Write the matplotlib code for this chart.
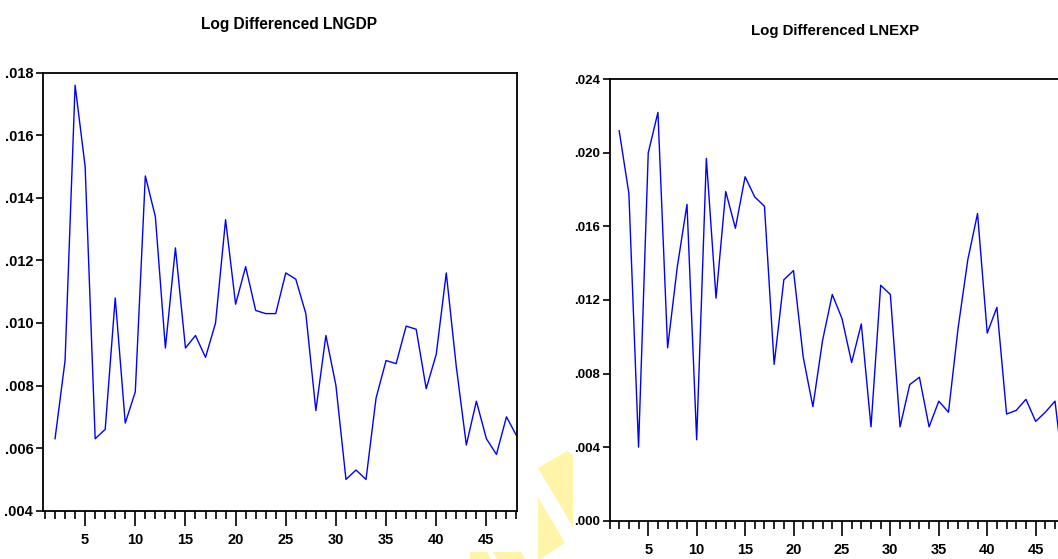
import numpy as np
import matplotlib
matplotlib.use('Agg')
import matplotlib.pyplot as plt
from matplotlib.patches import Polygon
from matplotlib.ticker import MultipleLocator, FuncFormatter

plt.rcParams['font.family'] = ['Liberation Sans', 'DejaVu Sans']
plt.rcParams['font.weight'] = 'bold'

# observations 2..48 (first difference drops obs 1)
obs = np.arange(2, 49)

lngdp = [0.0063, 0.0088, 0.0176, 0.0150, 0.0063, 0.0066, 0.0108, 0.0068, 0.0078,
         0.0147, 0.0134, 0.0092, 0.0124, 0.0092, 0.0096, 0.0089, 0.0100, 0.0133,
         0.0106, 0.0118, 0.0104, 0.0103, 0.0103, 0.0116, 0.0114, 0.0103, 0.0072,
         0.0096, 0.0080, 0.0050, 0.0053, 0.0050, 0.0076, 0.0088, 0.0087, 0.0099,
         0.0098, 0.0079, 0.0090, 0.0116, 0.0086, 0.0061, 0.0075, 0.0063, 0.0058,
         0.0070, 0.0064]

lnexp = [0.0212, 0.0178, 0.0040, 0.0200, 0.0222, 0.0094, 0.0138, 0.0172, 0.0044,
         0.0197, 0.0121, 0.0179, 0.0159, 0.0187, 0.0176, 0.0171, 0.0085, 0.0131,
         0.0136, 0.0089, 0.0062, 0.0098, 0.0123, 0.0110, 0.0086, 0.0107, 0.0051,
         0.0128, 0.0123, 0.0051, 0.0074, 0.0078, 0.0051, 0.0065, 0.0059, 0.0105,
         0.0142, 0.0167, 0.0102, 0.0116, 0.0058, 0.0060, 0.0066, 0.0054, 0.0059,
         0.0065, 0.0020]

titles = ['Log Differenced LNGDP', 'Log Differenced LNEXP']

W, H = 1058, 559
fig = plt.figure(figsize=(W / 100, H / 100), dpi=100)


def px_axes(left, top, right, bottom):
    # pixel box -> figure fraction
    return [left / W, 1 - bottom / H, (right - left) / W, (bottom - top) / H]


def dot_fmt(v, pos):
    return ('%.3f' % v).lstrip('0')


def style(ax, ylim, ystep, xlim, ylab):
    ax.set_xlim(*xlim)
    ax.set_ylim(*ylim)
    ax.xaxis.set_major_locator(MultipleLocator(5))
    ax.xaxis.set_minor_locator(MultipleLocator(1))
    ax.yaxis.set_major_locator(MultipleLocator(ystep))
    ax.yaxis.set_major_formatter(FuncFormatter(dot_fmt))
    ax.tick_params(axis='x', which='major', length=11, width=1.2, labelsize=10.5, pad=5)
    ax.tick_params(axis='x', which='minor', length=6, width=1.2)
    ax.tick_params(axis='y', length=5, width=1.2, labelsize=ylab, pad=2)
    for s in ax.spines.values():
        s.set_linewidth(1.3)


ax1 = fig.add_axes(px_axes(43, 72.7, 517, 510.7))
ax1.plot(obs, lngdp, color='#0000FF', lw=1.0)
style(ax1, (0.004, 0.018), 0.002, (0.8, 48.05), 10.5)
fig.text(289 / W, 1 - 24 / H, titles[0], ha='center', va='center', fontsize=11.2, weight='bold')

ax2 = fig.add_axes(px_axes(609.5, 79.3, 1064.7, 520.7))
ax2.plot(obs, lnexp, color='#0000FF', lw=1.0)
style(ax2, (0.0, 0.024), 0.004, (1, 48), 9.5)
fig.text(835 / W, 1 - 31 / H, titles[1], ha='center', va='center', fontsize=10.8, weight='bold')

# faint yellow watermark pieces at the bottom
wm = [[(538, 468), (567, 451), (573, 455), (573, 527)],
      [(538, 497), (565, 543), (540, 559), (538, 559)],
      [(470, 552), (487, 552), (491, 559), (470, 559)],
      [(493, 552), (521, 552), (525, 559), (497, 559)]]
for pts in wm:
    fig.add_artist(Polygon([(x / W, 1 - y / H) for x, y in pts], closed=True,
                           transform=fig.transFigure, facecolor='#FFF4A8',
                           edgecolor='none', zorder=-1))

fig.savefig('out.png', dpi=100)
